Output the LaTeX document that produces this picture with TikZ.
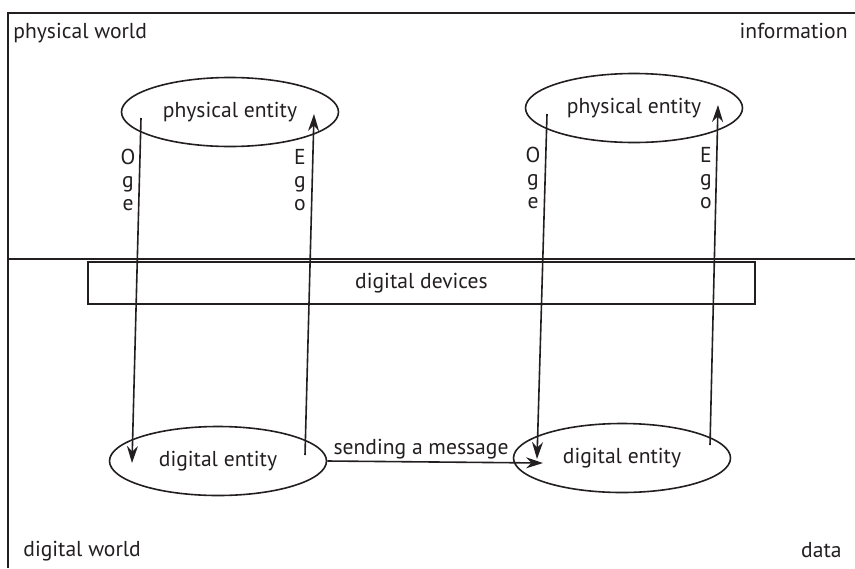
\documentclass[tikz,border=0pt]{standalone}
\usepackage{fontspec}
\setmainfont{PT Sans}
\usetikzlibrary{shapes.geometric,arrows.meta}
\definecolor{ink}{HTML}{231F20}

\tikzset{
  entity/.style={draw, ellipse, line width=0.8pt, minimum width=108.5pt, minimum height=34.5pt, inner sep=0pt},
  flow/.style={line width=0.8pt, -{Stealth[length=8.5pt,width=5.5pt]}},
  vlabel/.style={align=center, inner sep=0pt, font=\fontsize{10.8}{11.5}\selectfont},
  corner/.style={inner sep=0pt}
}

\begin{document}
\begin{tikzpicture}[x=0.5pt, y=-0.5pt, ink, text=ink, font=\fontsize{10.8}{12}\selectfont]
  \useasboundingbox (0,0) rectangle (855,568);
  % frame and divider
  \draw[line width=0.8pt] (855,13) -- (8,13) -- (8,568);
  \draw[line width=0.8pt] (8,259) -- (855,259);
  \node[draw, line width=0.8pt, minimum width=333.5pt, minimum height=21pt, inner sep=0pt] (devices) at (421.5,283) {digital devices};

  % corner texts
  \node[corner, anchor=base west] (phys) at (13,38) {physical world};
  \node[corner, anchor=base east] (info) at (848,38) {information};
  \node[corner, anchor=base west] (digi) at (23,556) {digital world};
  \node[corner, anchor=base east] (data) at (842,557) {data};

  % entities
  \node[entity] (pe1) at (230,112) {physical entity};
  \node[entity] (pe2) at (634,108) {physical entity};
  \node[entity] (de1) at (218,461) {digital entity};
  \node[entity] (de2) at (622,458) {digital entity};

  % arrow ends
  \coordinate (p1out) at (141,118);
  \coordinate (d1in)  at (132,463);
  \coordinate (d1out) at (305,455);
  \coordinate (p1in)  at (314,114);
  \coordinate (p2out) at (547,114);
  \coordinate (d2in)  at (537,459);
  \coordinate (d2out) at (710,445);
  \coordinate (p2in)  at (718,105);
  \coordinate (msgin) at (543,463);

  \draw[flow] (p1out) -- (d1in);
  \draw[flow] (d1out) -- (p1in);
  \draw[flow] (p2out) -- (d2in);
  \draw[flow] (d2out) -- (p2in);
  \draw[flow] (de1.east) -- (msgin);
  \node[corner, anchor=base] (msg) at (421,454) {sending a message};

  % vertical labels
  \node[vlabel] (oge1) at (128,180) {O\\g\\e};
  \node[vlabel] (ego1) at (300,180) {E\\g\\o};
  \node[vlabel] (oge2) at (533,178) {O\\g\\e};
  \node[vlabel] (ego2) at (706,178) {E\\g\\o};
\end{tikzpicture}
\end{document}
